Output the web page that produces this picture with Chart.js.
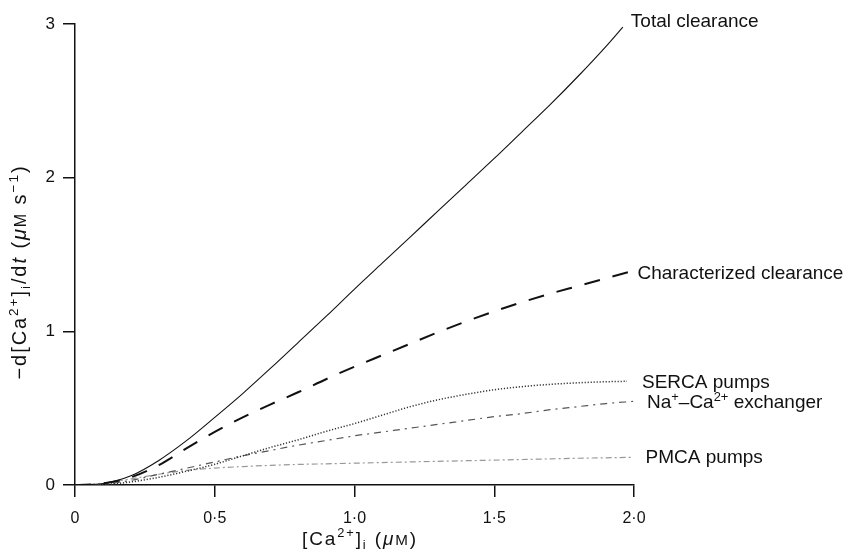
<!DOCTYPE html>
<html>
<head>
<meta charset="utf-8">
<script src="https://cdn.jsdelivr.net/npm/chart.js@4.4.1/dist/chart.umd.min.js"></script>
<style>
  html, body { margin: 0; padding: 0; background: #fff; }
  #c { display: block; }
</style>
</head>
<body>
<canvas id="c" width="847" height="554"></canvas>
<script>
// ---- data ----
const xTotal = [0, 0.1, 0.2, 0.3, 0.4, 0.5, 0.6, 0.7, 0.8, 0.9, 1.0, 1.1, 1.2, 1.3, 1.4, 1.5, 1.6, 1.7, 1.8, 1.9, 1.96];
const yTotal = [0, 0.01, 0.06, 0.16, 0.29, 0.44, 0.595, 0.76, 0.93, 1.10, 1.275, 1.445, 1.615, 1.785, 1.955, 2.125, 2.30, 2.475, 2.66, 2.855, 2.98];

const xCharacterized = [0, 0.1, 0.2, 0.3, 0.4, 0.5, 0.6, 0.7, 0.8, 0.9, 1.0, 1.1, 1.2, 1.3, 1.4, 1.5, 1.6, 1.7, 1.8, 1.9, 1.98];
const yCharacterized = [0, 0.01, 0.05, 0.13, 0.24, 0.345, 0.44, 0.525, 0.605, 0.69, 0.77, 0.845, 0.92, 0.995, 1.065, 1.13, 1.19, 1.245, 1.295, 1.345, 1.385];

const xSerca = [0, 0.1, 0.2, 0.3, 0.4, 0.5, 0.6, 0.7, 0.8, 0.9, 1.0, 1.1, 1.2, 1.3, 1.4, 1.5, 1.6, 1.7, 1.8, 1.9, 1.975];
const ySerca = [0, 0.003, 0.02, 0.05, 0.09, 0.135, 0.19, 0.245, 0.295, 0.35, 0.40, 0.455, 0.51, 0.555, 0.59, 0.62, 0.64, 0.655, 0.665, 0.672, 0.675];

const xExchanger = [0, 0.1, 0.2, 0.3, 0.4, 0.5, 0.6, 0.7, 0.8, 0.9, 1.0, 1.1, 1.2, 1.3, 1.4, 1.5, 1.6, 1.7, 1.8, 1.9, 2.0];
const yExchanger = [0, 0.005, 0.03, 0.07, 0.11, 0.15, 0.19, 0.225, 0.26, 0.29, 0.32, 0.345, 0.37, 0.395, 0.42, 0.445, 0.465, 0.49, 0.51, 0.53, 0.545];

const xPmca = [0, 0.1, 0.2, 0.3, 0.4, 0.5, 0.6, 0.7, 0.8, 0.9, 1.0, 1.2, 1.4, 1.6, 1.8, 1.995];
const yPmca = [0, 0.01, 0.04, 0.07, 0.095, 0.11, 0.12, 0.128, 0.134, 0.138, 0.142, 0.15, 0.158, 0.166, 0.174, 0.18];

const xTicks = [0, 0.5, 1.0, 1.5, 2.0];
const xTickLabels = ['0', '0·5', '1·0', '1·5', '2·0'];
const yTicks = [0, 1, 2, 3];
const yTickLabels = ['0', '1', '2', '3'];

const FONT = '"Liberation Sans", Arial, Helvetica, sans-serif';

// rich-text segments for titles / labels
const xTitle = [{t:'[Ca'}, {t:'2+', sup:true}, {t:']'}, {t:'i', sub:true}, {t:' ('}, {t:'μ', it:true}, {t:'M', small:true}, {t:')'}];
const yTitle = [{t:'−d[Ca'}, {t:'2+', sup:true}, {t:']'}, {t:'i', sub:true}, {t:'/d'}, {t:'t', it:true}, {t:' ('}, {t:'μ', it:true}, {t:'M', small:true}, {t:' s'}, {t:'−1', sup:true}, {t:')'}];

const seriesLabels = [
  [{t:'Total clearance'}],
  [{t:'Characterized clearance'}],
  [{t:'SERCA pumps'}],
  [{t:'Na'}, {t:'+', sup:true}, {t:'–Ca'}, {t:'2+', sup:true}, {t:' exchanger'}],
  [{t:'PMCA pumps'}]
];
const labelOffsets = [[8, -7], [9, 0], [15, 0], [13, 0], [13, -1]];

function pts(xs, ys) { return xs.map((x, i) => ({x: x, y: ys[i]})); }

function segFont(s, size) {
  let sz = size;
  if (s.sup || s.sub) sz = size * 0.68;
  else if (s.small) sz = size * 0.8;
  return (s.it ? 'italic ' : '') + sz.toFixed(1) + 'px ' + FONT;
}
function richWidth(ctx, segs, size) {
  let w = 0;
  for (const s of segs) { ctx.font = segFont(s, size); w += ctx.measureText(s.t).width; }
  return w;
}
function drawRich(ctx, segs, x, y, size, align, color, targetWidth) {
  ctx.save();
  ctx.fillStyle = color || '#111';
  ctx.textBaseline = 'alphabetic';
  ctx.textAlign = 'left';
  const natural = richWidth(ctx, segs, size);
  let spacing = 0;
  if (targetWidth) {
    const n = segs.reduce((a, s) => a + Array.from(s.t).length, 0);
    spacing = Math.max(0, (targetWidth - natural) / n);
  }
  const w = targetWidth ? Math.max(targetWidth, natural) : natural;
  let cx = align === 'center' ? x - w / 2 : x;
  const base = y + size * 0.35;
  for (const s of segs) {
    ctx.font = segFont(s, size);
    let dy = 0;
    if (s.sup) dy = -size * 0.38;
    if (s.sub) dy = size * 0.22;
    if (spacing > 0) {
      for (const ch of Array.from(s.t)) {
        ctx.fillText(ch, cx, base + dy);
        cx += ctx.measureText(ch).width + spacing;
      }
    } else {
      ctx.fillText(s.t, cx, base + dy);
      cx += ctx.measureText(s.t).width;
    }
  }
  ctx.restore();
}

const annotations = {
  id: 'annotations',
  afterDraw(chart) {
    const ctx = chart.ctx;
    const xs = chart.scales.x, ys = chart.scales.y;
    chart.data.datasets.forEach((ds, i) => {
      const last = ds.data[ds.data.length - 1];
      const px = xs.getPixelForValue(last.x) + labelOffsets[i][0];
      const py = ys.getPixelForValue(last.y) + labelOffsets[i][1];
      drawRich(ctx, seriesLabels[i], px, py, 19, 'left', '#111');
    });
    // x title
    drawRich(ctx, xTitle, 360, 538, 19, 'center', '#111', 116);
    // y title (rotated)
    ctx.save();
    ctx.translate(19, 272);
    ctx.rotate(-Math.PI / 2);
    drawRich(ctx, yTitle, 0, 0, 20, 'center', '#111', 215);
    ctx.restore();
  }
};

const common = { pointRadius: 0, fill: false, cubicInterpolationMode: 'monotone' };

new Chart(document.getElementById('c'), {
  type: 'line',
  data: {
    datasets: [
      Object.assign({ label: 'Total clearance', data: pts(xTotal, yTotal), borderColor: '#111', borderWidth: 1.1 }, common),
      Object.assign({ label: 'Characterized clearance', data: pts(xCharacterized, yCharacterized), borderColor: '#111', borderWidth: 2, borderDash: [16, 13] }, common),
      Object.assign({ label: 'SERCA pumps', data: pts(xSerca, ySerca), borderColor: '#333', borderWidth: 1.5, borderDash: [1.2, 1.8] }, common),
      Object.assign({ label: 'Na+–Ca2+ exchanger', data: pts(xExchanger, yExchanger), borderColor: '#555', borderWidth: 1.2, borderDash: [7, 5, 2, 5] }, common),
      Object.assign({ label: 'PMCA pumps', data: pts(xPmca, yPmca), borderColor: '#999', borderWidth: 1.2, borderDash: [6, 3, 2, 3] }, common)
    ]
  },
  options: {
    responsive: false,
    animation: false,
    devicePixelRatio: 1,
    layout: { padding: { left: 0, top: 24, right: 213, bottom: 0 } },
    plugins: { legend: { display: false }, tooltip: { enabled: false }, title: { display: false } },
    scales: {
      x: {
        type: 'linear', min: 0, max: 2,
        afterFit(scale) { scale.height = 69; },
        afterBuildTicks(scale) { scale.ticks = xTicks.map(v => ({ value: v })); },
        ticks: {
          color: '#111', padding: 12, maxRotation: 0,
          font: { family: FONT, size: 16 },
          callback: (v) => { const i = xTicks.indexOf(v); return i >= 0 ? xTickLabels[i] : ''; }
        },
        grid: { drawOnChartArea: false, drawTicks: true, tickLength: 12, color: '#111', lineWidth: 1.5 },
        border: { display: true, color: '#111', width: 1.5 }
      },
      y: {
        type: 'linear', min: 0, max: 3,
        afterFit(scale) { scale.width = 75; },
        afterBuildTicks(scale) { scale.ticks = yTicks.map(v => ({ value: v })); },
        ticks: {
          color: '#111', padding: 8,
          font: { family: FONT, size: 17 },
          callback: (v) => { const i = yTicks.indexOf(v); return i >= 0 ? yTickLabels[i] : ''; }
        },
        grid: { drawOnChartArea: false, drawTicks: true, tickLength: 12, color: '#111', lineWidth: 1.5 },
        border: { display: true, color: '#111', width: 1.5 }
      }
    }
  },
  plugins: [annotations]
});
</script>
</body>
</html>
